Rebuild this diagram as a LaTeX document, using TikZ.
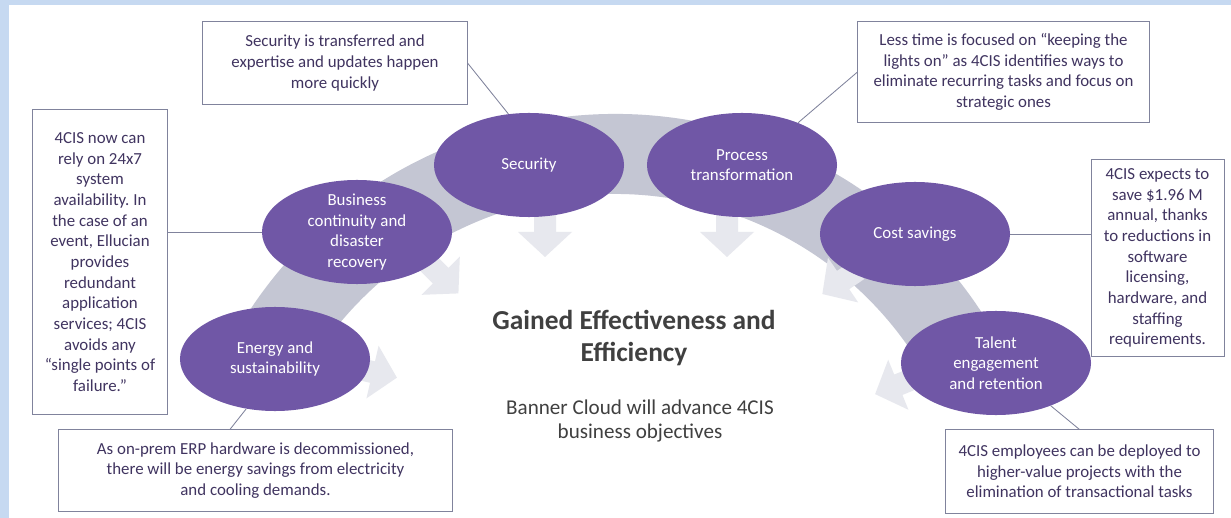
\documentclass[tikz,border=0pt]{standalone}
\usepackage{fontspec}
\setmainfont{Carlito}
\frenchspacing
\usetikzlibrary{shapes.geometric}

\definecolor{frameblue}{RGB}{198,217,241}
\definecolor{bandgray}{RGB}{196,198,211}
\definecolor{arrowgray}{RGB}{231,232,238}
\definecolor{ovalpurple}{RGB}{112,87,166}
\definecolor{noteline}{RGB}{128,131,156}
\definecolor{notetext}{RGB}{64,52,96}
\definecolor{headgray}{RGB}{64,64,64}

\tikzset{
    note/.style={draw=noteline, line width=0.7pt, fill=white, text=notetext, align=center,
                 inner sep=0pt, font=\fontsize{12}{14.7}\selectfont},
    oval/.style={ellipse, fill=ovalpurple, text=white, align=center, inner sep=-12pt,
                 minimum width=4.75cm, minimum height=2.6cm, font=\fontsize{12}{14.7}\selectfont},
    link/.style={draw=noteline, line width=0.6pt},
    pics/inarrow/.style={code={
        \fill[arrowgray] (0,-11) -- (18,-11) -- (18,-27) -- (43,0) -- (18,27) -- (18,11) -- (0,11) -- cycle;
    }}
}

\begin{document}
\begin{tikzpicture}[x=0.025cm,y=-0.025cm]
                        \useasboundingbox (0,0) rectangle (1231,518);
                        \fill[white] (0,0) rectangle (1231,518);
                        \fill[frameblue] (0,0) rectangle (1231,5);
                        \fill[frameblue] (0,0) rectangle (9,518);

                        \fill[bandgray] (615,552) ++(210:438) arc[start angle=210, end angle=330, radius=438]
                              -- ++(330:-80) arc[start angle=330, end angle=210, radius=358] -- cycle;

                        \pic[rotate=-90] at (545,214) {inarrow};
                        \pic[rotate=-90] at (727,214) {inarrow};
                        \pic[rotate=-45] at (428,263) {inarrow};
                        \pic[rotate=-13] at (355,368) {inarrow};
                        \pic[rotate=-146] at (858,270) {inarrow};
                        \pic[rotate=-158] at (915,378) {inarrow};

                        \node[oval] (sec) at (529,165) {Security};
                        \node[oval] (proc) at (742,165) {Process\\transformation};
                        \node[oval] (bus) at (357,232) {Business\\continuity and\\disaster\\recovery};
                        \node[oval] (cost) at (915,234) {Cost savings};
                        \node[oval] (ener) at (275,359) {Energy and\\sustainability};
                        \node[oval] (tal) at (996,363) {Talent\\engagement\\and retention};

                        \node[note, minimum width=6.6cm, minimum height=2.05cm] (secnote) at (335,63)
                            {Security is transferred and\\expertise and updates happen\\more quickly};
                        \node[note, minimum width=7.275cm, minimum height=2.5cm] (procnote) at (1003.5,72)
                            {Less time is focused on “keeping the\\lights on” as 4CIS identifies ways to\\eliminate recurring tasks and focus on\\strategic ones};
                        \node[note, minimum width=3.35cm, minimum height=7.6cm] (busnote) at (100,262)
                            {4CIS now can\\rely on 24x7\\system\\availability. In\\the case of an\\event, Ellucian\\provides\\redundant\\application\\services; 4CIS\\avoids any\\“single points of\\failure.”};
                        \node[note, minimum width=3.325cm, minimum height=4.9cm] (costnote) at (1157.5,258)
                            {4CIS expects to\\save \$1.96 M\\annual, thanks\\to reductions in\\software\\licensing,\\hardware, and\\staffing\\requirements.};
                        \node[note, minimum width=9.825cm, minimum height=2.025cm] (enernote) at (255.5,470.5)
                            {As on-prem ERP hardware is decommissioned,\\there will be energy savings from electricity\\and cooling demands.};
                        \node[note, minimum width=6.675cm, minimum height=2.075cm] (talnote) at (1079.5,471.5)
                            {4CIS employees can be deployed to\\higher-value projects with the\\elimination of transactional tasks};

                        \draw[link] (secnote.east) -- (sec.112);
                        \draw[link] (procnote.west) -- (proc.37);
                        \draw[link] (bus.west) -- (bus.west -| busnote.east);
                        \draw[link] (cost.east) -- (cost.east -| costnote.west);
                        \draw[link] (ener.240) -- ([xshift=-0.64cm]enernote.north);
                        \draw[link] (tal.-38) -- (talnote.north);

                        \node[text=headgray, align=center, font=\fontsize{19.5}{23}\selectfont\bfseries] (gain) at (634,338)
                            {Gained Effectiveness and\\Efficiency};
                        \node[text=headgray, align=center, font=\fontsize{15}{17.5}\selectfont] (goal) at (640,421)
                            {Banner Cloud will advance 4CIS\\business objectives};
                    \end{tikzpicture}
\end{document}
